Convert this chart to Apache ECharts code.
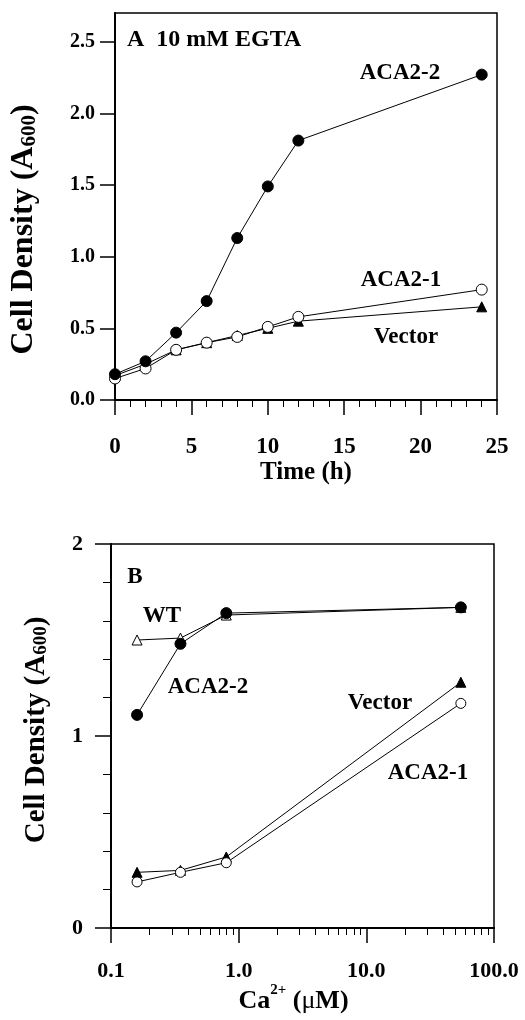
<!DOCTYPE html>
<html>
<head>
<meta charset="utf-8">
<script src="https://cdn.jsdelivr.net/npm/echarts@6/dist/echarts.min.js"></script>
<style>
  html, body { margin: 0; padding: 0; background: #fff; }
  #chart { width: 525px; height: 1020px; }
</style>
</head>
<body>
<div id="chart"></div>
<script>
// ---- panel A : growth in 10 mM EGTA ----
const timeH = [0, 2, 4, 6, 8, 10, 12, 24];
const egtaACA22 = [0.18, 0.27, 0.47, 0.69, 1.13, 1.49, 1.81, 2.27];
const egtaACA21 = [0.15, 0.22, 0.35, 0.40, 0.44, 0.51, 0.58, 0.77];
const egtaVector = [0.17, 0.25, 0.35, 0.40, 0.45, 0.50, 0.55, 0.65];
const topYTicks = [0, 0.5, 1, 1.5, 2, 2.5];

// ---- panel B : density vs Ca2+ ----
const caUM = [0.16, 0.35, 0.8, 55];
const caWT = [1.50, 1.51, 1.63, 1.67];
const caACA22 = [1.11, 1.48, 1.64, 1.67];
const caVector = [0.29, 0.30, 0.37, 1.28];
const caACA21 = [0.24, 0.29, 0.34, 1.17];

const FONT = '"Liberation Serif", "Times New Roman", serif';

function pairs(xs, ys) {
    return xs.map((x, i) => [x, ys[i]]);
}

function lineSeries(name, xi, yi, xs, ys, symbol, filled, size) {
    return {
        name: name,
        type: "line",
        xAxisIndex: xi,
        yAxisIndex: yi,
        data: pairs(xs, ys),
        symbol: symbol,
        symbolSize: size,
        showSymbol: true,
        animation: false,
        lineStyle: { color: "#000", width: 1 },
        itemStyle: {
            color: filled ? "#000" : "#fff",
            borderColor: "#000",
            borderWidth: 1
        }
    };
}

const axisLineStyle = { show: true, lineStyle: { color: "#000", width: 2 } };

function label(text, x, y, size) {
    return {
        type: "text",
        x: x,
        y: y,
        style: {
            text: text,
            font: "bold " + (size || 22) + "px " + FONT,
            fill: "#000",
            align: "center",
            verticalAlign: "middle"
        }
    };
}

function densityName(size, pad) {
    return {
        color: "#000",
        padding: pad,
        rich: {
            b: { fontFamily: FONT, fontWeight: "bold", fontSize: size, color: "#000" },
            s: { fontFamily: FONT, fontWeight: "bold", fontSize: Math.round(size * 0.66), color: "#000", verticalAlign: "bottom" }
        }
    };
}

const chart = echarts.init(document.getElementById("chart"));

chart.setOption({
    animation: false,
    backgroundColor: "#fff",
    grid: [
        { left: 114, top: 13, width: 383, height: 387, show: true, borderColor: "#000", borderWidth: 1.5 },
        { left: 111, top: 544, width: 383, height: 384, show: true, borderColor: "#000", borderWidth: 1.5 }
    ],
    xAxis: [
        {
            gridIndex: 0,
            type: "value",
            min: 0,
            max: 25,
            interval: 5,
            axisLine: axisLineStyle,
            axisTick: { show: true, length: 15, lineStyle: { color: "#000", width: 1.5 } },
            minorTick: { show: true, splitNumber: 5, length: 7, lineStyle: { color: "#000", width: 1 } },
            splitLine: { show: false },
            axisLabel: { color: "#000", fontFamily: FONT, fontWeight: "bold", fontSize: 23, margin: 36 },
            name: "Time (h)",
            nameLocation: "middle",
            nameGap: 52,
            nameTextStyle: { color: "#000", fontFamily: FONT, fontWeight: "bold", fontSize: 25 }
        },
        {
            gridIndex: 1,
            type: "log",
            logBase: 10,
            min: 0.1,
            max: 100,
            axisLine: axisLineStyle,
            axisTick: { show: true, length: 15, lineStyle: { color: "#000", width: 1.5 } },
            minorTick: { show: true, splitNumber: 9, length: 7, lineStyle: { color: "#000", width: 1 } },
            splitLine: { show: false },
            axisLabel: {
                color: "#000", fontFamily: FONT, fontWeight: "bold", fontSize: 22, margin: 32,
                formatter: v => Number(v).toFixed(1)
            },
            name: "{b|Ca}{sup|2+}{b| (}{mu|μ}{b|M)}",
            nameLocation: "middle",
            nameGap: 37,
            nameTextStyle: {
                color: "#000",
                padding: [0, 18, 0, 0],
                rich: {
                    b: { fontFamily: FONT, fontWeight: "bold", fontSize: 26, lineHeight: 36, color: "#000" },
                    sup: {
                        fontFamily: FONT, fontWeight: "bold", fontSize: 15, lineHeight: 15, color: "#000",
                        verticalAlign: "top"
                    },
                    mu: { fontFamily: FONT, fontWeight: "normal", fontSize: 26, lineHeight: 36, color: "#000" }
                }
            }
        }
    ],
    yAxis: [
        {
            gridIndex: 0,
            type: "value",
            min: 0,
            max: 2.7,
            interval: 0.5,
            axisLine: axisLineStyle,
            axisTick: { show: true, length: 15, customValues: topYTicks, lineStyle: { color: "#000", width: 1.5 } },
            splitLine: { show: false },
            axisLabel: {
                color: "#000", fontFamily: FONT, fontWeight: "bold", fontSize: 20, margin: 20,
                customValues: topYTicks,
                formatter: v => Number(v).toFixed(1)
            },
            name: "{b|Cell Density (A}{s|600}{b|)}",
            nameLocation: "middle",
            nameGap: 75,
            nameTextStyle: densityName(32, [0, 46, 0, 0])
        },
        {
            gridIndex: 1,
            type: "value",
            min: 0,
            max: 2,
            interval: 1,
            axisLine: axisLineStyle,
            axisTick: { show: true, length: 16, lineStyle: { color: "#000", width: 1.5 } },
            minorTick: { show: true, splitNumber: 5, length: 8, lineStyle: { color: "#000", width: 1 } },
            splitLine: { show: false },
            axisLabel: { color: "#000", fontFamily: FONT, fontWeight: "bold", fontSize: 22, margin: 28 },
            name: "{b|Cell Density (A}{s|600}{b|)}",
            nameLocation: "middle",
            nameGap: 60,
            nameTextStyle: densityName(29, [0, 0, 0, 12])
        }
    ],
    series: [
        lineSeries("Vector", 0, 0, timeH, egtaVector, "triangle", true, 10),
        lineSeries("ACA2-1", 0, 0, timeH, egtaACA21, "circle", false, 11),
        lineSeries("ACA2-2", 0, 0, timeH, egtaACA22, "circle", true, 11),

        lineSeries("WT", 1, 1, caUM, caWT, "triangle", false, 10),
        lineSeries("ACA2-2", 1, 1, caUM, caACA22, "circle", true, 11),
        lineSeries("Vector", 1, 1, caUM, caVector, "triangle", true, 10),
        lineSeries("ACA2-1", 1, 1, caUM, caACA21, "circle", false, 10)
    ],
    graphic: [
        { type: "text", left: 127, top: 28, style: { text: "A  10 mM EGTA", font: "bold 24px " + FONT, fill: "#000" } },
        label("ACA2-2", 400, 73, 23),
        label("ACA2-1", 401, 280, 23),
        label("Vector", 406, 337, 23),

        label("B", 135, 577, 23),
        label("WT", 162, 616, 23),
        label("ACA2-2", 208, 687, 23),
        label("Vector", 380, 703, 23),
        label("ACA2-1", 428, 773, 23)
    ]
});
</script>
</body>
</html>
